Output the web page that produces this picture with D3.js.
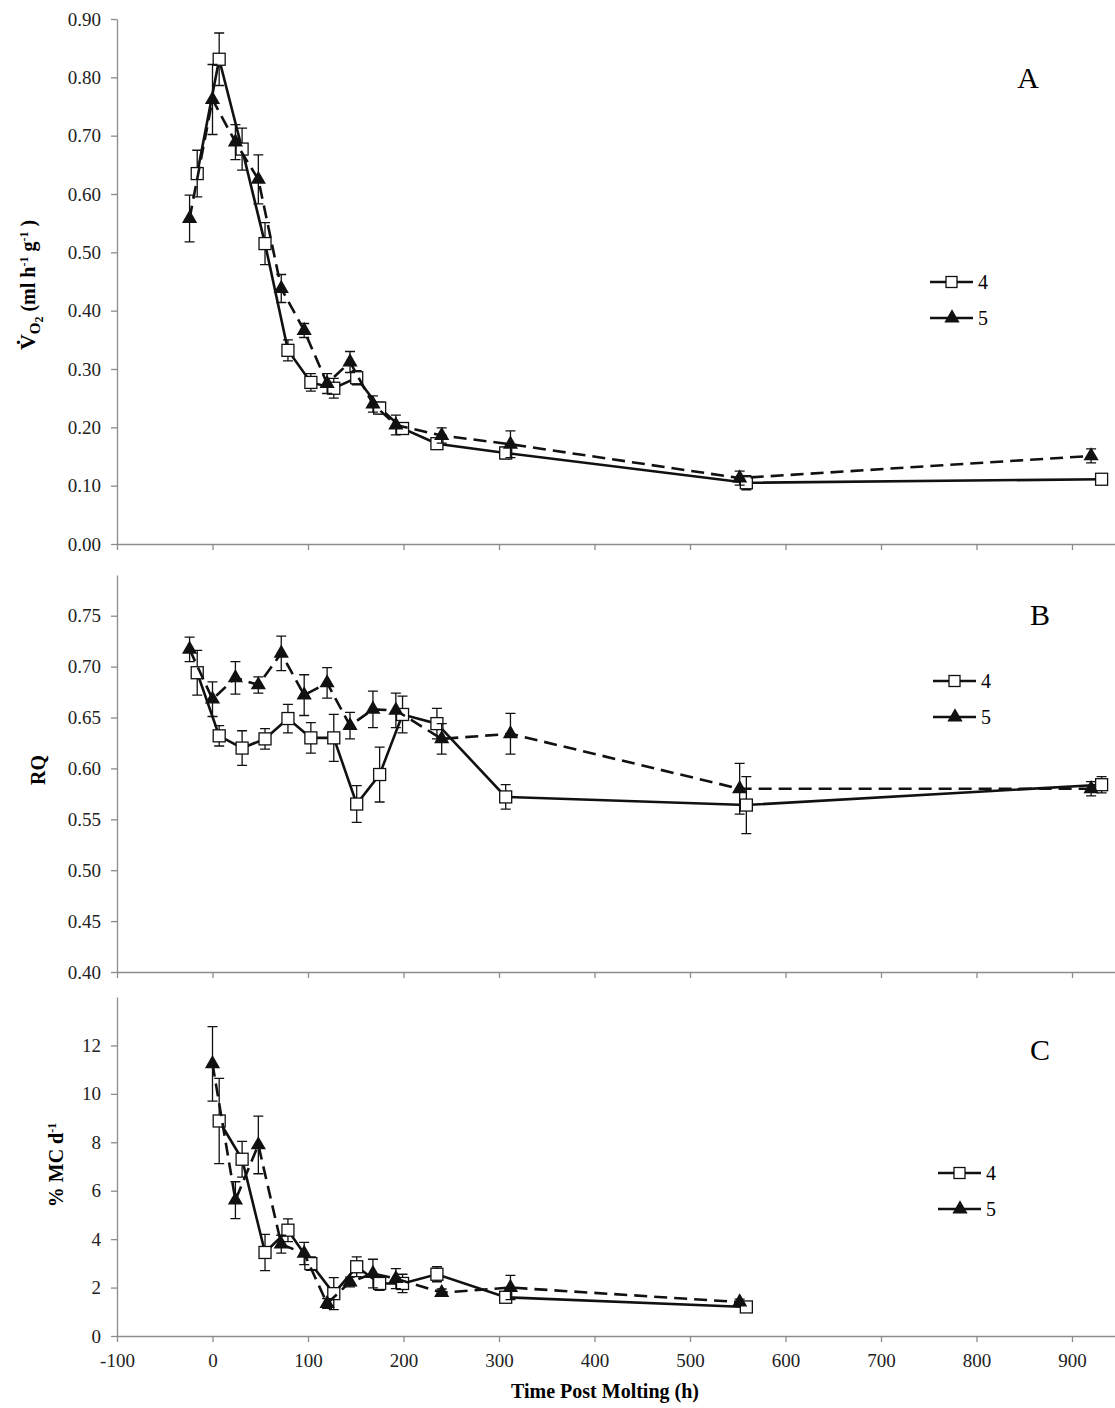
<!DOCTYPE html>
<html lang="en">
<head>
  <meta charset="UTF-8">
  <title>Post molting respiration</title>
  <script src="https://d3js.org/d3.v7.min.js"></script>
  <style>
    body { margin: 0; background: #fff; }
    svg { display: block; font-family: 'Liberation Serif', 'Times New Roman', serif; }
    .tick text { font-family: 'Liberation Serif', 'Times New Roman', serif; font-size: 19px; fill: #222; }
    .domain, .tick line { stroke: #8c8c8c; stroke-width: 1.3; }
  </style>
</head>
<body>
  <div id="chart"></div>
  <script>
    const width = 1115;
    const height = 1408;

    // sampling times (h) for the two series
    const timesSq = [-16, 7, 31, 55, 79, 103, 127, 151, 175, 199, 235, 307, 559, 931];
    const timesTri = [-24, 0, 24, 48, 72, 96, 120, 144, 168, 192, 240, 312, 552, 920];

    const seriesNames = ["4", "5"];
    const xTicks = [-100, 0, 100, 200, 300, 400, 500, 600, 700, 800, 900];

    // panel A: VO2
    const vo2Sq = [0.635, 0.831, 0.677, 0.515, 0.332, 0.277, 0.267, 0.285, 0.233, 0.198, 0.172, 0.156, 0.105, 0.111];
    const vo2SqErr = [0.04, 0.045, 0.036, 0.036, 0.018, 0.015, 0.017, 0.012, 0.01, 0.01, 0.008, 0.01, 0.012, 0.005];
    const vo2Tri = [0.558, 0.762, 0.689, 0.625, 0.438, 0.366, 0.275, 0.312, 0.24, 0.204, 0.186, 0.171, 0.113, 0.151];
    const vo2TriErr = [0.04, 0.06, 0.03, 0.042, 0.024, 0.012, 0.017, 0.018, 0.014, 0.017, 0.013, 0.023, 0.012, 0.012];
    const vo2Ticks = [0, 0.1, 0.2, 0.3, 0.4, 0.5, 0.6, 0.7, 0.8, 0.9];

    // panel B: RQ
    const rqSq = [0.694, 0.632, 0.620, 0.629, 0.649, 0.630, 0.630, 0.565, 0.594, 0.653, 0.644, 0.572, 0.564, 0.584];
    const rqSqErr = [0.022, 0.01, 0.017, 0.01, 0.014, 0.015, 0.023, 0.018, 0.027, 0.018, 0.015, 0.012, 0.028, 0.008];
    const rqTri = [0.717, 0.668, 0.689, 0.682, 0.713, 0.672, 0.684, 0.642, 0.658, 0.657, 0.629, 0.634, 0.580, 0.580];
    const rqTriErr = [0.012, 0.017, 0.016, 0.008, 0.017, 0.02, 0.015, 0.013, 0.018, 0.017, 0.015, 0.02, 0.025, 0.007];
    const rqTicks = [0.40, 0.45, 0.50, 0.55, 0.60, 0.65, 0.70, 0.75];

    // panel C: % MC per day (no value at first and last times)
    const mcSq = [null, 8.88, 7.3, 3.45, 4.37, 2.99, 1.75, 2.86, 2.17, 2.17, 2.55, 1.6, 1.2, null];
    const mcSqErr = [null, 1.76, 0.74, 0.75, 0.47, 0.28, 0.66, 0.41, 0.28, 0.38, 0.31, 0.12, 0.1, null];
    const mcTri = [null, 11.24, 5.61, 7.89, 3.79, 3.41, 1.34, 2.23, 2.58, 2.37, 1.79, 2.0, 1.4, null];
    const mcTriErr = [null, 1.54, 0.76, 1.19, 0.37, 0.46, 0.2, 0.2, 0.59, 0.41, 0.15, 0.5, 0.12, null];
    const mcTicks = [0, 2, 4, 6, 8, 10, 12];

    const svg = d3.select("#chart")
      .append("svg")
      .attr("width", width)
      .attr("height", height);

    svg.append("rect").attr("width", width).attr("height", height).attr("fill", "#fff");

    // x axis shared by all panels, runs off the right edge like the original
    const x = d3.scaleLinear().domain([-100, 1000]).range([117, 117 + 11 * 95.5]);

    const panels = [
      { letter: "A", domain: [0, 0.9], range: [544, 19], ticks: vo2Ticks, fmt: d3.format(".2f"),
        sq: vo2Sq, sqErr: vo2SqErr, tri: vo2Tri, triErr: vo2TriErr,
        letterPos: [1028, 88], legendPos: [930, 282], xLabels: false },
      { letter: "B", domain: [0.40, 0.79], range: [972, 575], ticks: rqTicks, fmt: d3.format(".2f"),
        sq: rqSq, sqErr: rqSqErr, tri: rqTri, triErr: rqTriErr,
        letterPos: [1040, 625], legendPos: [933, 681], xLabels: false },
      { letter: "C", domain: [0, 14], range: [1336, 997], ticks: mcTicks, fmt: d => String(d),
        sq: mcSq, sqErr: mcSqErr, tri: mcTri, triErr: mcTriErr,
        letterPos: [1040, 1060], legendPos: [938, 1173], xLabels: true }
    ];

    const tri = d3.symbol().type(d3.symbolTriangle).size(100);

    panels.forEach(p => {
      const y = d3.scaleLinear().domain(p.domain).range(p.range);
      const g = svg.append("g");

      g.append("g")
        .attr("transform", `translate(${x(-100)},0)`)
        .call(d3.axisLeft(y).tickValues(p.ticks).tickFormat(p.fmt).tickSize(6).tickSizeOuter(0).tickPadding(10));

      const xa = g.append("g")
        .attr("transform", `translate(0,${p.range[0]})`)
        .call(d3.axisBottom(x).tickValues(xTicks).tickFormat(d => String(d)).tickSize(6).tickSizeOuter(0).tickPadding(12));
      if (!p.xLabels) xa.selectAll(".tick text").remove();

      const sets = [
        { t: timesSq, v: p.sq, e: p.sqErr, dash: null, marker: "square" },
        { t: timesTri, v: p.tri, e: p.triErr, dash: "13,7", marker: "triangle" }
      ];

      sets.forEach(s => {
        const pts = s.t.map((t, i) => ({ t, v: s.v[i], e: s.e[i] })).filter(d => d.v != null);

        g.append("g").selectAll("path")
          .data(pts)
          .enter().append("path")
          .attr("d", d => {
            const cx = x(d.t), hi = y(d.v + d.e), lo = y(d.v - d.e);
            return `M${cx},${hi}V${lo}M${cx - 5},${hi}H${cx + 5}M${cx - 5},${lo}H${cx + 5}`;
          })
          .attr("stroke", "#111").attr("stroke-width", 1.3).attr("fill", "none");

        g.append("path")
          .datum(pts)
          .attr("d", d3.line().x(d => x(d.t)).y(d => y(d.v)))
          .attr("fill", "none")
          .attr("stroke", "#111")
          .attr("stroke-width", 2.6)
          .attr("stroke-dasharray", s.dash);

        if (s.marker === "square") {
          g.append("g").selectAll("rect")
            .data(pts)
            .enter().append("rect")
            .attr("x", d => x(d.t) - 6).attr("y", d => y(d.v) - 6)
            .attr("width", 12).attr("height", 12)
            .attr("fill", "#fff").attr("stroke", "#111").attr("stroke-width", 1.3);
        } else {
          g.append("g").selectAll("path")
            .data(pts)
            .enter().append("path")
            .attr("d", tri)
            .attr("transform", d => `translate(${x(d.t)},${y(d.v)})`)
            .attr("fill", "#111");
        }
      });

      // panel letter
      g.append("text")
        .attr("x", p.letterPos[0]).attr("y", p.letterPos[1])
        .attr("text-anchor", "middle")
        .style("font-size", "30px")
        .text(p.letter);

      // legend
      const [lx, ly] = p.legendPos;
      seriesNames.forEach((name, i) => {
        const yy = ly + i * 36;
        g.append("line")
          .attr("x1", lx).attr("x2", lx + 43).attr("y1", yy).attr("y2", yy)
          .attr("stroke", "#111").attr("stroke-width", 2.6);
        if (i === 0) {
          g.append("rect")
            .attr("x", lx + 16).attr("y", yy - 5.5).attr("width", 11).attr("height", 11)
            .attr("fill", "#fff").attr("stroke", "#111").attr("stroke-width", 1.3);
        } else {
          g.append("path").attr("d", tri).attr("transform", `translate(${lx + 22},${yy})`).attr("fill", "#111");
        }
        g.append("text")
          .attr("x", lx + 48).attr("y", yy + 7)
          .style("font-size", "20px")
          .text(name);
      });
    });

    // axis titles
    const titleA = svg.append("text")
      .attr("transform", "translate(35,285) rotate(-90)")
      .attr("text-anchor", "middle")
      .style("font-weight", "bold")
      .style("font-size", "20px");
    titleA.append("tspan").style("font-size", "22px").text("V\u0307");
    titleA.append("tspan").attr("dy", 5).style("font-size", "15px").text("O");
    titleA.append("tspan").attr("dy", 3).style("font-size", "12px").text("2");
    titleA.append("tspan").attr("dy", -8).text(" (ml h");
    titleA.append("tspan").attr("dy", -7).style("font-size", "12px").text("-1");
    titleA.append("tspan").attr("dy", 7).text(" g");
    titleA.append("tspan").attr("dy", -7).style("font-size", "12px").text("-1");
    titleA.append("tspan").attr("dy", 7).text(" )");

    svg.append("text")
      .attr("transform", "translate(45,770) rotate(-90)")
      .attr("text-anchor", "middle")
      .style("font-weight", "bold")
      .style("font-size", "20px")
      .text("RQ");

    const titleC = svg.append("text")
      .attr("transform", "translate(63,1165) rotate(-90)")
      .attr("text-anchor", "middle")
      .style("font-weight", "bold")
      .style("font-size", "20px");
    titleC.append("tspan").text("% MC d");
    titleC.append("tspan").attr("dy", -7).style("font-size", "12px").text("-1");

    svg.append("text")
      .attr("x", 605).attr("y", 1398)
      .attr("text-anchor", "middle")
      .style("font-weight", "bold")
      .style("font-size", "20px")
      .text("Time Post Molting (h)");
  </script>
</body>
</html>
